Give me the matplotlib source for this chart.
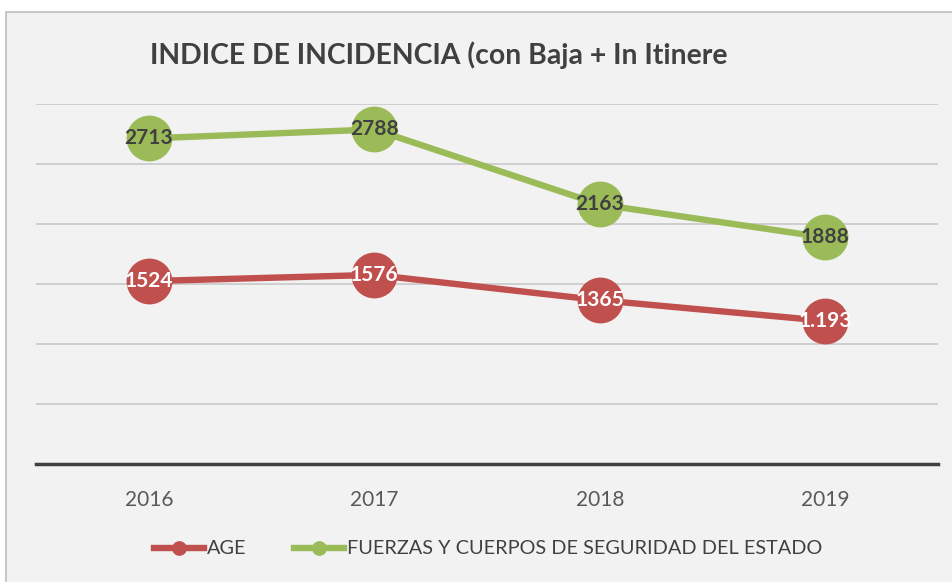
import matplotlib.pyplot as plt
from matplotlib.patches import Rectangle

years = ['2016', '2017', '2018', '2019']
age = [1524, 1576, 1365, 1193]
age_labels = ['1524', '1576', '1365', '1.193']
fuerzas = [2713, 2788, 2163, 1888]
fuerzas_labels = ['2713', '2788', '2163', '1888']

red = '#C0504D'
green = '#9BBB59'
txt = '#404040'

plt.rcParams['font.family'] = ['Lato', 'DejaVu Sans']

W, H = 953, 582
fig = plt.figure(figsize=(W / 100, H / 100), dpi=100)
fig.patch.set_facecolor('white')

# fondo del grafico con borde gris
fig.patches.append(Rectangle((6 / W, -0.05), 1.0, 1 - 12 / H + 0.05, transform=fig.transFigure,
                             facecolor='#f2f2f2', edgecolor='#bfbfbf', linewidth=1.2, zorder=-10))

ax = fig.add_axes([36 / W, 1 - 464 / H, (938 - 36) / W, (464 - 104) / H])
ax.set_facecolor('none')
x = range(len(years))

ax.plot(x, age, color=red, lw=4.6, marker='o', ms=32, mec=red, label='AGE', zorder=3, clip_on=False)
ax.plot(x, fuerzas, color=green, lw=4.6, marker='o', ms=32, mec=green,
        label='FUERZAS Y CUERPOS DE SEGURIDAD DEL ESTADO', zorder=3, clip_on=False)

for i in x:
    ax.text(i, age[i], age_labels[i], ha='center', va='center', color='white',
            fontsize=15, fontweight='bold', zorder=4)
    ax.text(i, fuerzas[i], fuerzas_labels[i], ha='center', va='center', color=txt,
            fontsize=15, fontweight='bold', zorder=4)

ax.set_xlim(-0.5, 3.5)
ax.set_ylim(0, 3000)
ax.set_yticks(range(500, 3001, 500))
ax.yaxis.grid(True, color='#c8c8c8', lw=1.2)
ax.set_axisbelow(True)
ax.tick_params(axis='y', left=False, labelleft=False)
ax.set_xticks(list(x))
ax.set_xticklabels(years, fontsize=15, color='#595959')
ax.tick_params(axis='x', length=0, pad=19)
for s in ['top', 'right', 'left']:
    ax.spines[s].set_visible(False)
ax.spines['bottom'].set_color(txt)
ax.spines['bottom'].set_linewidth(2.5)

fig.text(150 / W, 1 - 55 / H, 'INDICE DE INCIDENCIA (con Baja + In Itinere', ha='left', va='center',
         fontsize=20.4, fontweight='bold', color=txt)

h, l = ax.get_legend_handles_labels()
leg = fig.legend(h, l, loc='center', bbox_to_anchor=(488 / W, 1 - 549 / H), ncol=2, frameon=False,
                 fontsize=14.3, handlelength=2.5, handletextpad=0.15, columnspacing=2.4, markerscale=0.3)
for t in leg.get_texts():
    t.set_color(txt)

fig.savefig('out.png', dpi=100, facecolor=fig.get_facecolor())
